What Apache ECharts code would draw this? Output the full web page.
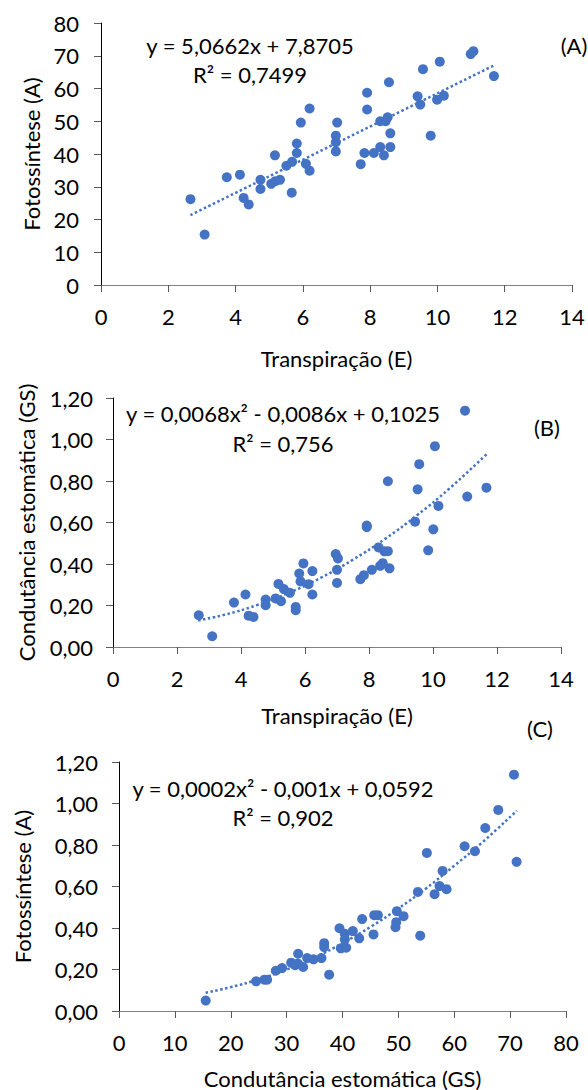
<!DOCTYPE html>
<html>
<head>
<meta charset="utf-8">
<script src="https://cdn.jsdelivr.net/npm/echarts@6/dist/echarts.min.js"></script>
<style>
  html, body { margin: 0; padding: 0; background: #fff; }
  #chart { width: 588px; height: 1090px; }
</style>
</head>
<body>
<div id="chart"></div>
<script>
// (A) Transpiração x Fotossíntese
const transpA = [2.66,3.08,3.74,4.13,4.24,4.39,4.74,4.74,5.06,5.18,5.32,5.17,5.51,5.68,5.67,5.82,5.82,5.94,6.09,6.20,6.20,6.98,6.98,6.98,7.02,7.72,7.83,7.91,7.91,8.11,8.30,8.30,8.41,8.46,8.52,8.60,8.60,8.56,9.41,9.49,9.57,9.80,9.99,10.07,10.19,10.99,11.07,11.68]
const fotoA = [26.2,15.4,32.9,33.7,26.6,24.6,32.1,29.3,30.9,31.7,32.1,39.6,36.4,37.6,28.2,43.2,40.3,49.6,37.0,34.9,53.9,40.8,43.6,45.6,49.6,36.9,40.3,53.6,58.7,40.3,42.1,50.0,39.6,50.0,51.2,42.1,46.3,61.9,57.6,55.1,65.9,45.6,56.6,68.2,57.8,70.5,71.4,63.8]
const trendAx = [2.66, 11.68]
const trendAy = [21.35, 67.04]

// (B) Transpiração x Condutância estomática
const transpB = [2.68,3.10,3.78,4.14,4.24,4.39,4.77,4.77,5.08,5.25,5.17,5.34,5.53,5.71,5.71,5.82,5.86,5.95,6.11,6.23,6.23,6.96,7.03,7.00,7.00,7.73,7.84,7.93,7.93,8.09,8.30,8.35,8.43,8.48,8.59,8.64,8.59,9.44,9.52,9.57,9.85,10.01,10.06,10.17,11.00,11.07,11.67]
const gsB = [0.153,0.052,0.214,0.253,0.151,0.145,0.229,0.201,0.234,0.221,0.304,0.279,0.261,0.193,0.177,0.354,0.316,0.403,0.303,0.366,0.253,0.448,0.427,0.372,0.309,0.327,0.346,0.585,0.578,0.372,0.480,0.391,0.404,0.461,0.462,0.379,0.799,0.604,0.760,0.881,0.466,0.567,0.968,0.680,1.139,0.725,0.768]
const trendBx = [2.66,3.5,4.5,5.5,6.5,7.5,8.5,9.5,10.5,11.68]
const trendBy = [0.128,0.156,0.202,0.261,0.334,0.421,0.521,0.635,0.762,0.93]

// (C) Condutância estomática x Fotossíntese
const gsC = [15.52,24.54,26.03,26.51,28.06,29.19,30.81,31.52,32.0,32.06,32.96,33.67,34.81,36.24,36.72,36.72,37.61,39.46,39.70,40.42,40.42,40.66,41.85,42.99,43.52,45.55,45.67,46.33,49.49,49.61,49.73,50.93,53.49,53.91,55.10,56.48,57.37,57.91,58.63,61.85,63.70,65.55,67.88,70.69,71.16]
const fotoC = [0.050,0.143,0.151,0.151,0.194,0.207,0.233,0.221,0.229,0.276,0.212,0.255,0.249,0.255,0.327,0.308,0.175,0.399,0.302,0.372,0.345,0.305,0.385,0.350,0.443,0.369,0.462,0.462,0.404,0.428,0.481,0.457,0.574,0.363,0.762,0.563,0.602,0.675,0.587,0.794,0.770,0.882,0.969,1.139,0.719]
const trendCx = [15.5,20,25,30,35,40,45,50,55,60,65,71.2]
const trendCy = [0.088,0.115,0.153,0.200,0.258,0.327,0.405,0.494,0.592,0.700,0.812,0.966]

const FONT = 'Lato'
const FS = 22
const BLUE = '#4472C4'

const zip = (xs, ys) => xs.map((x, i) => [x, ys[i]])
const comma = v => v.toFixed(2).replace('.', ',')

function xAxisOf(grid, max, interval, name, nameGap) {
  return {
    type: 'value', gridIndex: grid, min: 0, max: max, interval: interval,
    name: name, nameLocation: 'middle', nameGap: nameGap,
    nameTextStyle: { fontFamily: FONT, fontSize: FS, color: '#000' },
    axisLine: { lineStyle: { color: '#808080', width: 1 } },
    axisTick: { length: 7, lineStyle: { color: '#595959' } },
    axisLabel: { margin: 20, fontFamily: FONT, fontSize: FS, color: '#000' },
    splitLine: { show: false }
  }
}

function yAxisOf(grid, max, interval, name, nameGap, fmt, margin) {
  return {
    type: 'value', gridIndex: grid, min: 0, max: max, interval: interval,
    name: name, nameLocation: 'middle', nameGap: nameGap,
    nameTextStyle: { fontFamily: FONT, fontSize: FS, color: '#000' },
    axisLine: { show: true, lineStyle: { color: '#000', width: 1 } },
    axisTick: { show: true, length: 7, lineStyle: { color: '#595959' } },
    axisLabel: { margin: margin, fontFamily: FONT, fontSize: FS, color: '#000', formatter: fmt },
    splitLine: { show: false }
  }
}

function dots(i, data) {
  return {
    type: 'scatter', xAxisIndex: i, yAxisIndex: i, data: data,
    symbolSize: 10, itemStyle: { color: BLUE, opacity: 1 }, z: 3
  }
}

function trend(i, data) {
  return {
    type: 'line', xAxisIndex: i, yAxisIndex: i, data: data, smooth: true,
    showSymbol: false, silent: true,
    lineStyle: { color: BLUE, width: 2.5, type: [2.5, 2.5] }, z: 2
  }
}

function label(text, x, y) {
  return {
    type: 'text',
    style: {
      text: text, x: x, y: y, fill: '#000',
      font: FS + 'px ' + FONT,
      textAlign: 'center', textVerticalAlign: 'middle',
      align: 'center', verticalAlign: 'middle'
    }
  }
}

const chart = echarts.init(document.getElementById('chart'), null, { renderer: 'svg' })

chart.setOption({
  animation: false,
  textStyle: { fontFamily: FONT },
  grid: [
    { left: 101, top: 23, width: 471, height: 262 },
    { left: 113, top: 398, width: 448, height: 249 },
    { left: 119, top: 762, width: 447, height: 250 }
  ],
  xAxis: [
    xAxisOf(0, 14, 2, 'Transpiração (E)', 62),
    xAxisOf(1, 14, 2, 'Transpiração (E)', 57),
    xAxisOf(2, 80, 10, 'Condutância estomática (GS)', 56)
  ],
  yAxis: [
    yAxisOf(0, 80, 10, 'Fotossíntese (A)', 57, null, 22),
    yAxisOf(1, 1.2, 0.2, 'Condutância estomática (GS)', 76, comma, 20),
    yAxisOf(2, 1.2, 0.2, 'Fotossíntese (A)', 86, comma, 21)
  ],
  series: [
    trend(0, zip(trendAx, trendAy)),
    dots(0, zip(transpA, fotoA)),
    trend(1, zip(trendBx, trendBy)),
    dots(1, zip(transpB, gsB)),
    trend(2, zip(trendCx, trendCy)),
    dots(2, zip(gsC, fotoC))
  ],
  graphic: [
    label('y = 5,0662x + 7,8705', 250, 45),
    label('R² = 0,7499', 250, 74),
    label('(A)', 574, 45),
    label('y = 0,0068x² - 0,0086x + 0,1025', 283, 413),
    label('R² = 0,756', 283, 443),
    label('(B)', 547, 427),
    label('(C)', 540, 728),
    label('y = 0,0002x² - 0,001x + 0,0592', 283, 788),
    label('R² = 0,902', 283, 817)
  ]
})
</script>
</body>
</html>
